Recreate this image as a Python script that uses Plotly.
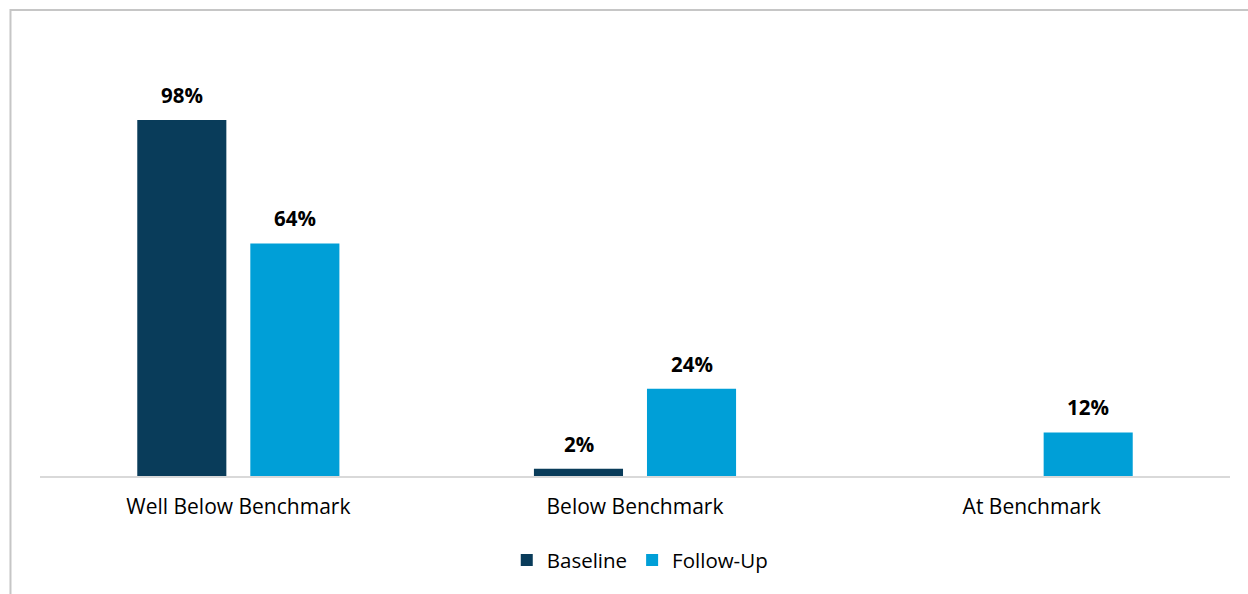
import plotly.graph_objects as go

# Share of students per benchmark band
categories = ["Well Below Benchmark", "Below Benchmark", "At Benchmark"]
baseline = [98, 2, None]
follow_up = [64, 24, 12]
series_names = ["Baseline", "Follow-Up"]

DARK = "#093C5A"
LIGHT = "#009FD7"
FONT = "Open Sans"

fig = go.Figure()
fig.add_trace(go.Bar(x=categories, y=baseline, name=series_names[0],
                     marker=dict(color=DARK, line=dict(width=0))))
fig.add_trace(go.Bar(x=categories, y=follow_up, name=series_names[1],
                     marker=dict(color=LIGHT, line=dict(width=0))))

# value labels above each bar, offset to the bar's slot in the group
annotations = []
for vals, shift in ((baseline, -56.5), (follow_up, 56.5)):
    for cat, v in zip(categories, vals):
        if v is None:
            continue
        annotations.append(dict(
            x=cat, y=v, xref="x", yref="y", text=f"<b>{v}%</b>",
            showarrow=False, xshift=shift, yshift=9, yanchor="bottom",
            font=dict(family=FONT, size=20.5, color="#000000"),
        ))

fig.update_layout(
    width=1248, height=594,
    margin=dict(l=40, r=18, t=40, b=118),
    paper_bgcolor="white", plot_bgcolor="white",
    barmode="group", bargap=0.43, bargroupgap=0.212,
    font=dict(family=FONT, size=21, color="#000000"),
    showlegend=True,
    legend=dict(orientation="h", x=0.504, xanchor="center", y=-0.193,
                yanchor="middle", font=dict(family=FONT, size=20.5),
                itemwidth=30, traceorder="normal"),
    xaxis=dict(showgrid=False, showline=True, linecolor="#D9D9D9", linewidth=1.5,
               ticks="", ticklabelstandoff=11,
               tickfont=dict(family=FONT, size=21, color="#000000")),
    yaxis=dict(range=[0, 120], visible=False, showgrid=False, zeroline=False),
    annotations=annotations,
    shapes=[dict(type="rect", xref="paper", yref="paper",
                 x0=-0.0248, x1=1.2, y0=-0.5, y1=1.0688,
                 line=dict(color="#C6C6C6", width=2), layer="below")],
)

fig.write_html("out.html")
